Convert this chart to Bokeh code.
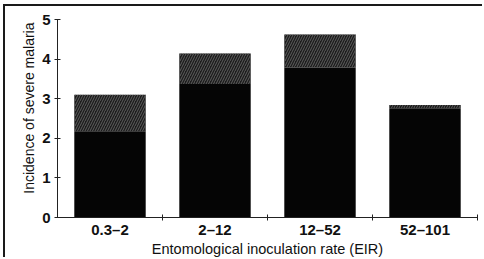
from bokeh.plotting import figure
from bokeh.models import Range1d, FixedTicker, ColumnDataSource, Title
from bokeh.embed import file_html
from bokeh.resources import INLINE

# ---- data ----
categories = ["0.3–2", "2–12", "12–52", "52–101"]
severe_base = [2.18, 3.37, 3.79, 2.76]     # solid black part
severe_total = [3.10, 4.14, 4.62, 2.84]    # top of hatched part
y_ticks = [0, 1, 2, 3, 4, 5]

xpos = [i + 0.5 for i in range(len(categories))]
boundaries = [i + 1 for i in range(len(categories))]
src = ColumnDataSource(dict(x=xpos, base=severe_base, total=severe_total))

FONT = "Liberation Sans"

p = figure(width=479, height=253,
           x_range=Range1d(0, len(categories)), y_range=Range1d(0, 5),
           output_backend="svg", toolbar_location=None,
           min_border_left=52, min_border_right=7,
           min_border_top=13, min_border_bottom=42)
p.styles = {"margin-left": "3px", "margin-top": "4px",
            "border-left": "2px solid #1a1a1a", "border-top": "2px solid #1a1a1a"}

p.vbar(x="x", bottom=0, top="base", width=0.68, source=src,
       fill_color="#050505", line_color=None)
p.vbar(x="x", bottom="base", top="total", width=0.68, source=src,
       fill_color="#1c1c1c", hatch_pattern="/", hatch_color="#5e5e5e",
       hatch_scale=5, hatch_weight=1, line_color=None)

p.grid.visible = False
p.outline_line_color = None
p.background_fill_color = "white"
p.border_fill_color = "white"

# x axis
xa = p.xaxis[0]
xa.ticker = FixedTicker(ticks=xpos, minor_ticks=boundaries)
xa.major_label_overrides = {x: c for x, c in zip(xpos, categories)}
xa.major_tick_in = 0
xa.major_tick_out = 0
xa.minor_tick_in = 3
xa.minor_tick_out = 3
xa.minor_tick_line_color = "#222"
xa.axis_line_color = "#222"
xa.major_label_text_font = FONT
xa.major_label_text_font_size = "15px"
xa.major_label_text_font_style = "bold"
xa.major_label_text_color = "#111"
xa.major_label_standoff = 0
xa.axis_label = "Entomological inoculation rate (EIR)"
xa.axis_label_text_font = FONT
xa.axis_label_text_font_size = "14.5px"
xa.axis_label_text_font_style = "normal"
xa.axis_label_text_color = "#111"
xa.axis_label_standoff = 0

# y axis
ya = p.yaxis[0]
ya.axis_label = None
ya.ticker = FixedTicker(ticks=y_ticks)
ya.minor_tick_line_color = None
ya.major_tick_in = 3
ya.major_tick_out = 3
ya.major_tick_line_color = "#222"
ya.axis_line_color = "#222"
ya.major_label_text_font = FONT
ya.major_label_text_font_size = "15px"
ya.major_label_text_font_style = "bold"
ya.major_label_text_color = "#111"
ya.major_label_standoff = 4

ytitle = Title(text="Incidence of severe malaria", align="right",
               vertical_align="bottom",
               text_font=FONT, text_font_size="14px",
               text_font_style="normal", text_color="#111",
               standoff=6, offset=3)
p.add_layout(ytitle, "left")

open("out.html", "w").write(file_html(p, INLINE))
